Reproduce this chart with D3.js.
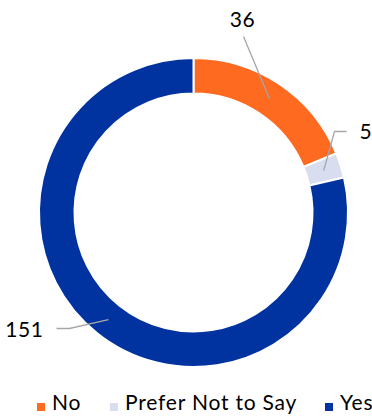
<!DOCTYPE html>
<html>
<head>
<meta charset="utf-8">
<script src="https://cdn.jsdelivr.net/npm/d3@7"></script>
<style>
  html, body { margin: 0; padding: 0; background: #fff; }
  svg { display: block; font-family: "Lato", "Open Sans", sans-serif; }
</style>
</head>
<body>
<svg id="chart" width="372" height="419"></svg>
<script>
// Survey responses
const categories = ["No", "Prefer Not to Say", "Yes"];
const values = [36, 5, 151];
const colors = ["#FF6A21", "#D8DEF0", "#0033A0"];

const svg = d3.select("#chart");
const cx = 193.5, cy = 212.5;
const outerR = 154.5, innerR = 119;

const color = d3.scaleOrdinal().domain(categories).range(colors);

const pie = d3.pie().sort(null).value(d => d.value);
const arcs = pie(categories.map((c, i) => ({ name: c, value: values[i] })));
const arc = d3.arc().innerRadius(innerR).outerRadius(outerR);

const g = svg.append("g").attr("transform", `translate(${cx},${cy})`);

g.selectAll("path.slice")
  .data(arcs)
  .join("path")
  .attr("class", "slice")
  .attr("d", arc)
  .attr("fill", d => color(d.data.name))
  .attr("stroke", "#fff")
  .attr("stroke-width", 2);

// Value labels with leader lines (label offsets relative to chart centre)
const labelPos = [
  { lx: 49, ly: -186, anchor: "middle", line: [[50, -176]] },
  { lx: 166, ly: -74, anchor: "start", line: [[153, -81], [141, -81]] },
  { lx: -150, ly: 124, anchor: "end", line: [[-137, 116], [-124, 116]] }
];

arcs.forEach((a, i) => {
  const mid = (a.startAngle + a.endAngle) / 2;
  const rr = (innerR + outerR) / 2;
  const p = [Math.sin(mid) * rr, -Math.cos(mid) * rr];
  const lp = labelPos[i];
  const pts = [p].concat(lp.line.slice().reverse());
  g.append("path")
    .attr("d", d3.line()(pts))
    .attr("fill", "none")
    .attr("stroke", "#A6A6A6")
    .attr("stroke-width", 1.3);
  g.append("text")
    .attr("x", lp.lx)
    .attr("y", lp.ly)
    .attr("text-anchor", lp.anchor)
    .attr("font-size", 21)
    .attr("letter-spacing", 0.6)
    .attr("fill", "#000")
    .text(a.data.value);
});

// Legend
const legendX = [37, 110, 325];
const legend = svg.append("g").attr("transform", "translate(0,410)");
categories.forEach((c, i) => {
  legend.append("rect")
    .attr("x", legendX[i]).attr("y", -7)
    .attr("width", 8).attr("height", 8)
    .attr("fill", color(c));
  legend.append("text")
    .attr("x", legendX[i] + 15).attr("y", 0)
    .attr("font-size", 21)
    .attr("letter-spacing", 0.8)
    .attr("fill", "#000")
    .text(c);
});
</script>
</body>
</html>
